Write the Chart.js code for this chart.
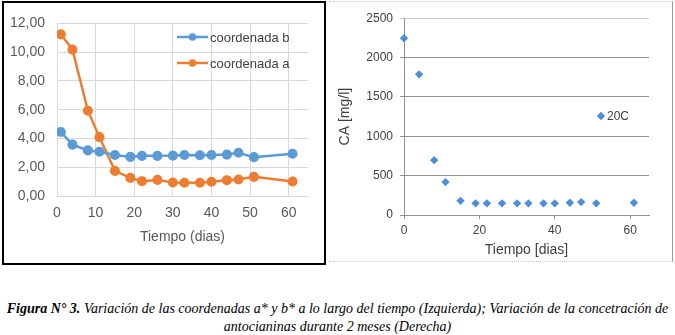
<!DOCTYPE html>
<html>
<head>
<meta charset="utf-8">
<script src="https://cdn.jsdelivr.net/npm/chart.js@4/dist/chart.umd.min.js"></script>
<style>
  body { margin: 0; background: #fff; width: 675px; height: 335px; position: relative; overflow: hidden; }
  #boxIzq { position: absolute; left: 2px; top: 1px; width: 324px; height: 264px; border: 2px solid #000; box-sizing: border-box; }
  #boxDer { position: absolute; left: 329px; top: 1px; width: 344px; height: 261px; border-top: 1px dotted #c8c8c8; border-bottom: 1px dotted #c8c8c8; border-right: 1px solid #9a9a9a; box-sizing: border-box; }
  #wrapIzq { position: absolute; left: 4px; top: 3px; width: 320px; height: 260px; }
  #wrapDer { position: absolute; left: 332px; top: 4px; width: 338px; height: 256px; }
  #caption { position: absolute; left: 0; top: 300px; width: 675px; text-align: center; font-family: "Liberation Serif", serif; font-style: italic; font-size: 14px; line-height: 18px; color: #000; }
</style>
</head>
<body>
<div id="boxIzq"></div>
<div id="boxDer"></div>
<div id="wrapIzq"><canvas id="chartIzq"></canvas></div>
<div id="wrapDer"><canvas id="chartDer"></canvas></div>
<div id="caption"><b>Figura N° 3.</b> Variación de las coordenadas a* y b* a lo largo del tiempo (Izquierda); Variación de la concetración de<br>antocianinas durante 2 meses (Derecha)</div>

<script>
// datos - grafico izquierdo
var diasIzq = [1, 4, 8, 11, 15, 19, 22, 26, 30, 33, 37, 40, 44, 47, 51, 61];
var coordB = [4.45, 3.57, 3.17, 3.08, 2.85, 2.72, 2.79, 2.79, 2.81, 2.85, 2.83, 2.85, 2.88, 3.01, 2.70, 2.94];
var coordA = [11.24, 10.18, 5.93, 4.09, 1.75, 1.26, 1.03, 1.12, 0.94, 0.92, 0.92, 0.99, 1.10, 1.15, 1.33, 1.01];
var yTicksIzq = [0, 2, 4, 6, 8, 10, 12];
var xTicksIzq = [0, 10, 20, 30, 40, 50, 60];

// datos - grafico derecho
var diasDer = [0, 4, 8, 11, 15, 19, 22, 26, 30, 33, 37, 40, 44, 47, 51, 61];
var concCA = [2245, 1787, 697, 418, 180, 148, 148, 148, 148, 148, 148, 148, 156, 164, 148, 156];
var yTicksDer = [0, 500, 1000, 1500, 2000, 2500];
var xTicksDer = [0, 20, 40, 60];

var FONT = "'Liberation Sans', Arial, sans-serif";

function pares(xs, ys) {
  return xs.map(function(x, i) { return { x: x, y: ys[i] }; });
}
function fijarTicks(arr) {
  return function(scale) { scale.ticks = arr.map(function(v) { return { value: v }; }); };
}

// leyenda dibujada dentro del area del grafico
var leyendaPlugin = {
  id: 'leyendaDentro',
  afterDatasetsDraw: function(chart, args, opts) {
    var ctx = chart.ctx;
    ctx.save();
    ctx.font = opts.font;
    ctx.textBaseline = 'middle';
    ctx.fillStyle = '#404040';
    opts.items.forEach(function(it) {
      var ds = chart.data.datasets[it.index];
      if (it.line) {
        ctx.strokeStyle = ds.borderColor;
        ctx.lineWidth = ds.borderWidth;
        ctx.beginPath();
        ctx.moveTo(it.x, it.y);
        ctx.lineTo(it.x + 31, it.y);
        ctx.stroke();
        ctx.fillStyle = ds.pointBackgroundColor;
        ctx.beginPath();
        ctx.arc(it.x + 15.5, it.y, ds.pointRadius, 0, Math.PI * 2);
        ctx.fill();
        ctx.fillStyle = '#404040';
        ctx.fillText(ds.label, it.x + 33, it.y + 1);
      } else {
        var r = ds.pointRadius;
        ctx.fillStyle = ds.backgroundColor;
        ctx.beginPath();
        ctx.moveTo(it.x, it.y - r);
        ctx.lineTo(it.x + r, it.y);
        ctx.lineTo(it.x, it.y + r);
        ctx.lineTo(it.x - r, it.y);
        ctx.closePath();
        ctx.fill();
        ctx.fillStyle = '#404040';
        ctx.fillText(ds.label, it.x + 6, it.y + 1);
      }
    });
    ctx.restore();
  }
};

new Chart(document.getElementById('chartIzq'), {
  type: 'line',
  data: {
    datasets: [{
      label: 'coordenada b',
      data: pares(diasIzq, coordB),
      borderColor: '#5b9bd5',
      backgroundColor: '#5b9bd5',
      pointBackgroundColor: '#5b9bd5',
      pointBorderColor: '#5b9bd5',
      borderWidth: 2.5,
      pointRadius: 3.8,
      tension: 0
    }, {
      label: 'coordenada a',
      data: pares(diasIzq, coordA),
      borderColor: '#ed7d31',
      backgroundColor: '#ed7d31',
      pointBackgroundColor: '#ed7d31',
      pointBorderColor: '#ed7d31',
      borderWidth: 2.5,
      pointRadius: 3.8,
      tension: 0
    }]
  },
  options: {
    responsive: true,
    maintainAspectRatio: false,
    animation: false,
    layout: { padding: { top: 14, right: 16, left: 0, bottom: 0 } },
    plugins: {
      legend: { display: false },
      tooltip: { enabled: false },
      leyendaDentro: {
        font: '13px ' + FONT,
        items: [
          { index: 0, x: 173, y: 34, line: true },
          { index: 1, x: 173, y: 60, line: true }
        ]
      }
    },
    scales: {
      x: {
        type: 'linear',
        min: 0,
        max: 65,
        afterBuildTicks: fijarTicks(xTicksIzq),
        afterFit: function(s) { s.height = 67; },
        grid: { color: '#d9d9d9', drawTicks: false },
        border: { color: '#d9d9d9' },
        ticks: { padding: 8.6, color: '#595959', font: { family: FONT, size: 14 } },
        title: { display: true, text: 'Tiempo (dias)', color: '#595959', font: { family: FONT, size: 14 }, padding: { top: 0, bottom: 17.6 } }
      },
      y: {
        min: 0,
        max: 12,
        afterBuildTicks: fijarTicks(yTicksIzq),
        afterFit: function(s) { s.width = 53; },
        grid: { color: '#d9d9d9', drawTicks: false },
        border: { color: '#d9d9d9' },
        ticks: {
          padding: 12,
          color: '#595959',
          font: { family: FONT, size: 14 },
          callback: function(v) { return v.toFixed(2).replace('.', ','); }
        }
      }
    }
  },
  plugins: [leyendaPlugin]
});

new Chart(document.getElementById('chartDer'), {
  type: 'scatter',
  data: {
    datasets: [{
      label: '20C',
      data: pares(diasDer, concCA),
      backgroundColor: '#4f8fd8',
      borderColor: '#4f8fd8',
      pointStyle: 'rectRot',
      pointRadius: 4.2,
      borderWidth: 0,
      clip: false
    }]
  },
  options: {
    responsive: true,
    maintainAspectRatio: false,
    animation: false,
    layout: { padding: { top: 10, right: 21, left: 0, bottom: 0 } },
    plugins: {
      legend: { display: false },
      tooltip: { enabled: false },
      leyendaDentro: {
        font: '12px ' + FONT,
        items: [ { index: 0, x: 269, y: 112, line: false } ]
      }
    },
    scales: {
      x: {
        type: 'linear',
        min: 0,
        max: 65,
        afterBuildTicks: fijarTicks(xTicksDer),
        afterFit: function(s) { s.height = 45; },
        grid: { drawOnChartArea: false, color: '#8f8f8f', tickLength: 4 },
        border: { color: '#8f8f8f' },
        ticks: { padding: 4.5, color: '#404040', font: { family: FONT, size: 12 }, callback: function(v) { return String(v); } },
        title: { display: true, text: 'Tiempo [dias]', color: '#404040', font: { family: FONT, size: 14 }, padding: { top: 0, bottom: 1.6 } }
      },
      y: {
        min: 0,
        max: 2500,
        afterBuildTicks: fijarTicks(yTicksDer),
        afterFit: function(s) { s.width = 72; },
        grid: {
          color: function(c) { return c.tick && c.tick.value === 2500 ? '#c9c9c9' : '#8f8f8f'; },
          tickLength: 4
        },
        border: { color: '#8f8f8f' },
        ticks: { padding: 7, color: '#404040', font: { family: FONT, size: 12 }, callback: function(v) { return String(v); } },
        title: { display: true, text: 'CA [mg/l]', color: '#404040', font: { family: FONT, size: 14 }, padding: { top: 4.6, bottom: 0 } }
      }
    }
  },
  plugins: [leyendaPlugin]
});
</script>
</body>
</html>
